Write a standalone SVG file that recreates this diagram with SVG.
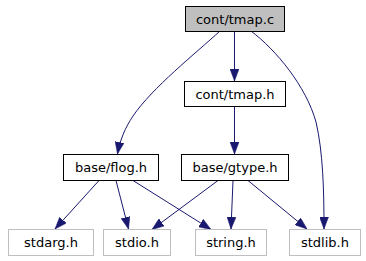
<svg xmlns="http://www.w3.org/2000/svg" width="366" height="261" viewBox="0 0 366 261">
  <style>
    .node rect { fill: #ffffff; stroke: #000000; stroke-width: 1; }
    .node.root rect { fill: #bfbfbf; }
    .node.sys rect { stroke: #bfbfbf; }
    .node text { font-family: "DejaVu Sans", sans-serif; font-size: 13px; fill: #000000; text-anchor: middle; }
    .edge { fill: none; stroke: #191970; stroke-width: 1; marker-end: url(#arrow); }
  </style>
  <defs>
    <marker id="arrow" viewBox="0 0 12 9" refX="12" refY="4.5" markerWidth="12" markerHeight="9" markerUnits="userSpaceOnUse" orient="auto">
      <path d="M0,0 L12,4.5 L0,9 z" fill="#191970" stroke="#191970" stroke-width="0.5"/>
    </marker>
  </defs>

  <g id="connectors">
    <!-- cont/tmap.c includes -->
    <path class="edge" d="M234.5,31 L234.5,81"/>
    <path class="edge" d="M220,31 C196,53 152,88 133,116 C125,128 120,140 117.5,154"/>
    <path class="edge" d="M251,31 C276,50 306,86 316,122 C323,152 324,190 324,229"/>
    <!-- cont/tmap.h includes -->
    <path class="edge" d="M234.5,106 L234.5,154"/>
    <!-- base/flog.h includes -->
    <path class="edge" d="M99,180.5 L55,229"/>
    <path class="edge" d="M116,180.5 L128.5,229"/>
    <path class="edge" d="M133,180.5 L211,229.5"/>
    <!-- base/gtype.h includes -->
    <path class="edge" d="M218,180.5 L152,229.5"/>
    <path class="edge" d="M233,180.5 L231,229"/>
    <path class="edge" d="M248,180.5 L307,229"/>
  </g>

  <g id="node-tmap-c" class="node root">
    <rect x="185.5" y="6.5" width="99" height="25"/>
    <text x="235" y="23.5">cont/tmap.c</text>
  </g>
  <g id="node-tmap-h" class="node">
    <rect x="184.5" y="81.5" width="101" height="25"/>
    <text x="235" y="98.5">cont/tmap.h</text>
  </g>
  <g id="node-flog-h" class="node">
    <rect x="63.5" y="154.5" width="95" height="26"/>
    <text x="111" y="172">base/flog.h</text>
  </g>
  <g id="node-gtype-h" class="node">
    <rect x="181.5" y="154.5" width="107" height="26"/>
    <text x="235" y="172">base/gtype.h</text>
  </g>
  <g id="node-stdarg-h" class="node sys">
    <rect x="8.5" y="229.5" width="85" height="26"/>
    <text x="51" y="247">stdarg.h</text>
  </g>
  <g id="node-stdio-h" class="node sys">
    <rect x="103.5" y="229.5" width="67" height="26"/>
    <text x="137" y="247">stdio.h</text>
  </g>
  <g id="node-string-h" class="node sys">
    <rect x="195.5" y="229.5" width="71" height="26"/>
    <text x="231" y="247">string.h</text>
  </g>
  <g id="node-stdlib-h" class="node sys">
    <rect x="289.5" y="229.5" width="71" height="26"/>
    <text x="325" y="247">stdlib.h</text>
  </g>
</svg>
